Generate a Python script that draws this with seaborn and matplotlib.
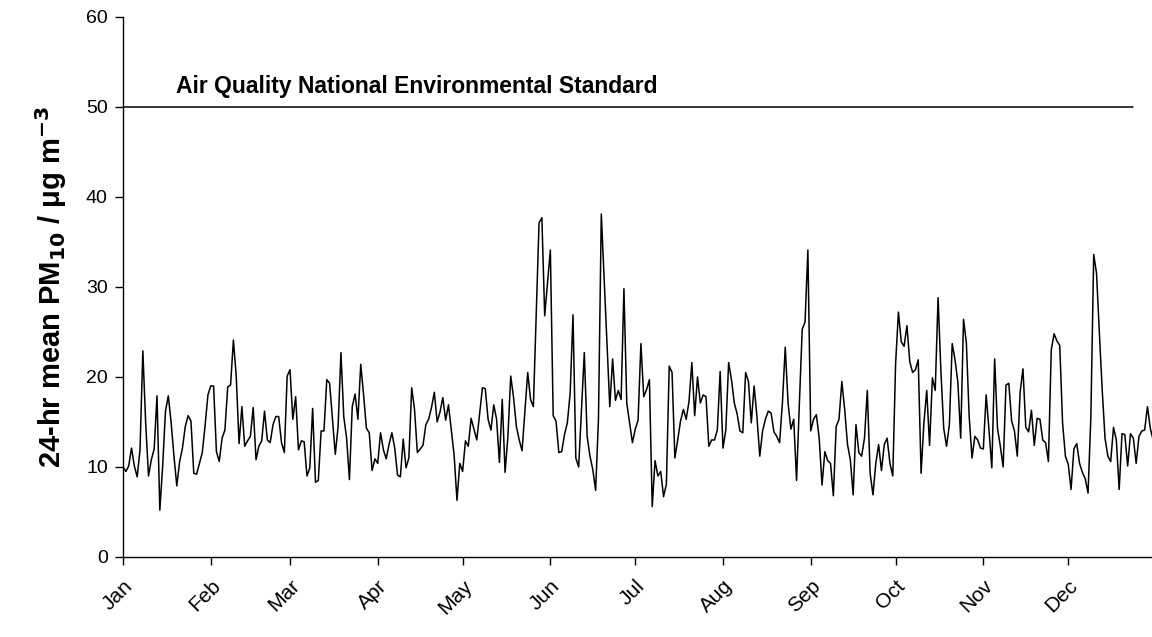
import numpy as np
import pandas as pd
import matplotlib
matplotlib.use("Agg")
import matplotlib.pyplot as plt
import seaborn as sns

# daily 24-hr mean PM10 (ug/m3), one list per month
jan = [10.0, 9.5, 10.1, 12.1, 10.1, 8.9, 11.9, 22.9, 14.9, 9.0, 10.8, 12.0, 17.9, 5.2, 10.1, 16.2,
       17.9, 14.9, 11.2, 7.9, 10.6, 12.1, 14.5, 15.7, 15.1, 9.3, 9.2, 10.4, 11.6, 14.6, 18.0]
feb = [19.0, 19.0, 11.7, 10.6, 13.2, 14.1, 18.9, 19.1, 24.1, 20.1, 12.6, 16.7, 12.3, 12.9, 13.4, 16.6,
       10.8, 12.3, 12.9, 16.2, 13.0, 12.7, 14.7, 15.6, 15.6, 12.7, 11.6, 20.1]
mar = [20.8, 15.3, 17.8, 11.9, 12.9, 12.8, 9.0, 9.9, 16.5, 8.3, 8.5, 14.0, 14.0, 19.7, 19.3, 15.3,
       11.4, 14.5, 22.7, 15.6, 13.2, 8.6, 16.7, 18.1, 15.3, 21.4, 18.0, 14.3, 13.8, 9.6, 10.9]
apr = [10.4, 13.8, 11.9, 10.9, 12.5, 13.8, 12.1, 9.1, 8.9, 13.1, 9.9, 11.0, 18.8, 16.4, 11.6, 12.0,
       12.4, 14.7, 15.3, 16.6, 18.3, 15.0, 16.1, 17.7, 15.2, 16.9, 14.1, 11.3, 6.3, 10.4]
may = [9.5, 12.9, 12.3, 15.4, 14.2, 13.0, 15.9, 18.8, 18.7, 15.3, 14.1, 16.9, 15.3, 10.5, 17.5, 9.4,
       13.4, 20.1, 17.7, 14.5, 13.0, 11.8, 16.1, 20.5, 17.5, 16.7, 27.0, 37.1, 37.7, 26.8, 30.5]
jun = [34.1, 15.7, 15.1, 11.6, 11.7, 13.6, 14.9, 18.2, 26.9, 11.0, 10.0, 16.4, 22.7, 13.4, 11.2, 9.7,
       7.4, 15.3, 38.1, 31.0, 24.0, 16.7, 22.0, 17.4, 18.5, 17.5, 29.8, 17.1, 14.9, 12.7]
jul = [14.2, 15.2, 23.7, 17.8, 18.6, 19.7, 5.6, 10.7, 9.0, 9.5, 6.7, 8.1, 21.2, 20.5, 11.0, 13.0,
       15.1, 16.4, 15.3, 17.3, 21.6, 15.7, 20.0, 17.1, 18.0, 17.8, 12.3, 13.0, 13.0, 14.1, 20.6]
aug = [12.1, 14.1, 21.6, 19.7, 17.1, 15.9, 14.0, 13.8, 20.5, 19.5, 14.9, 19.0, 15.6, 11.2, 14.0, 15.3,
       16.2, 16.0, 13.9, 13.4, 12.7, 17.1, 23.3, 17.1, 14.2, 15.3, 8.5, 17.1, 25.3, 26.1, 34.1]
sep = [14.0, 15.3, 15.8, 13.2, 8.0, 11.7, 10.7, 10.4, 6.8, 14.5, 15.3, 19.5, 16.4, 12.5, 10.8, 6.9,
       14.7, 11.6, 11.2, 13.2, 18.5, 9.3, 6.9, 10.4, 12.5, 9.6, 12.5, 13.2, 10.4, 9.0]
oct_ = [21.5, 27.2, 23.9, 23.4, 25.7, 21.7, 20.5, 20.8, 21.9, 9.3, 14.9, 18.5, 12.4, 19.9, 18.5, 28.8,
        20.7, 14.3, 12.3, 14.7, 23.7, 21.9, 19.4, 13.2, 26.4, 23.8, 15.6, 11.0, 13.4, 13.0, 12.1]
nov = [12.0, 18.0, 14.1, 9.9, 22.0, 14.3, 12.3, 10.0, 19.1, 19.3, 15.1, 14.0, 11.2, 18.3, 20.9, 14.4,
       13.9, 16.3, 12.4, 15.4, 15.3, 13.0, 12.7, 10.6, 23.0, 24.8, 24.0, 23.5, 14.9, 11.2]
dec = [10.3, 7.5, 12.0, 12.6, 10.4, 9.4, 8.7, 7.1, 15.6, 33.6, 31.5, 24.9, 18.6, 13.2, 11.2, 10.6,
       14.4, 13.0, 7.5, 13.7, 13.6, 10.1, 13.7, 13.2, 10.4, 13.4, 14.0, 14.1, 16.7, 14.3, 13.0]

months = ["Jan", "Feb", "Mar", "Apr", "May", "Jun", "Jul", "Aug", "Sep", "Oct", "Nov", "Dec"]
month_data = [jan, feb, mar, apr, may, jun, jul, aug, sep, oct_, nov, dec]
standard = 50
standard_label = "Air Quality National Environmental Standard"

pm10 = np.concatenate(month_data)
df = pd.DataFrame({"day": np.arange(len(pm10)), "pm10": pm10})
month_starts = np.cumsum([0] + [len(m) for m in month_data[:-1]])

sns.set_style("white")
plt.rcParams["font.family"] = ["Liberation Sans", "DejaVu Sans"]
plt.rcParams["text.color"] = "black"
plt.rcParams["axes.labelcolor"] = "black"
plt.rcParams["xtick.color"] = "black"
plt.rcParams["ytick.color"] = "black"

fig = plt.figure(figsize=(11.52, 6.37), dpi=100)
ax = fig.add_axes([0.1068, 0.1256, 0.8932, 0.848])

sns.lineplot(data=df, x="day", y="pm10", color="black", linewidth=1.1, ax=ax)

# standard line
ax.plot([0, 357], [standard, standard], color="black", linewidth=1.1)
ax.text(18.7, 52.3, standard_label, fontsize=16.5, fontweight="bold", va="center", ha="left")

ax.set_xlim(0, 363.6)
ax.set_ylim(0, 60)
ax.set_yticks(np.arange(0, 61, 10))
ax.set_xticks(month_starts)
ax.set_xticklabels(months, rotation=45, ha="right", rotation_mode="anchor")
ax.tick_params(axis="both", direction="out", length=6, width=1, color="black",
               left=True, bottom=True)
ax.tick_params(axis="y", labelsize=14, pad=5)
ax.tick_params(axis="x", labelsize=15, pad=8)
ax.set_xlabel("")
ax.set_ylabel("24-hr mean PM$_{\\mathbf{10}}$ / \u03bcg m$^{\\mathbf{-3}}$", fontsize=21, fontweight="bold",
              labelpad=12)

for s in ["top", "right"]:
    ax.spines[s].set_visible(False)
for s in ["left", "bottom"]:
    ax.spines[s].set_color("black")
    ax.spines[s].set_linewidth(1)

fig.savefig("out.png", dpi=100)
